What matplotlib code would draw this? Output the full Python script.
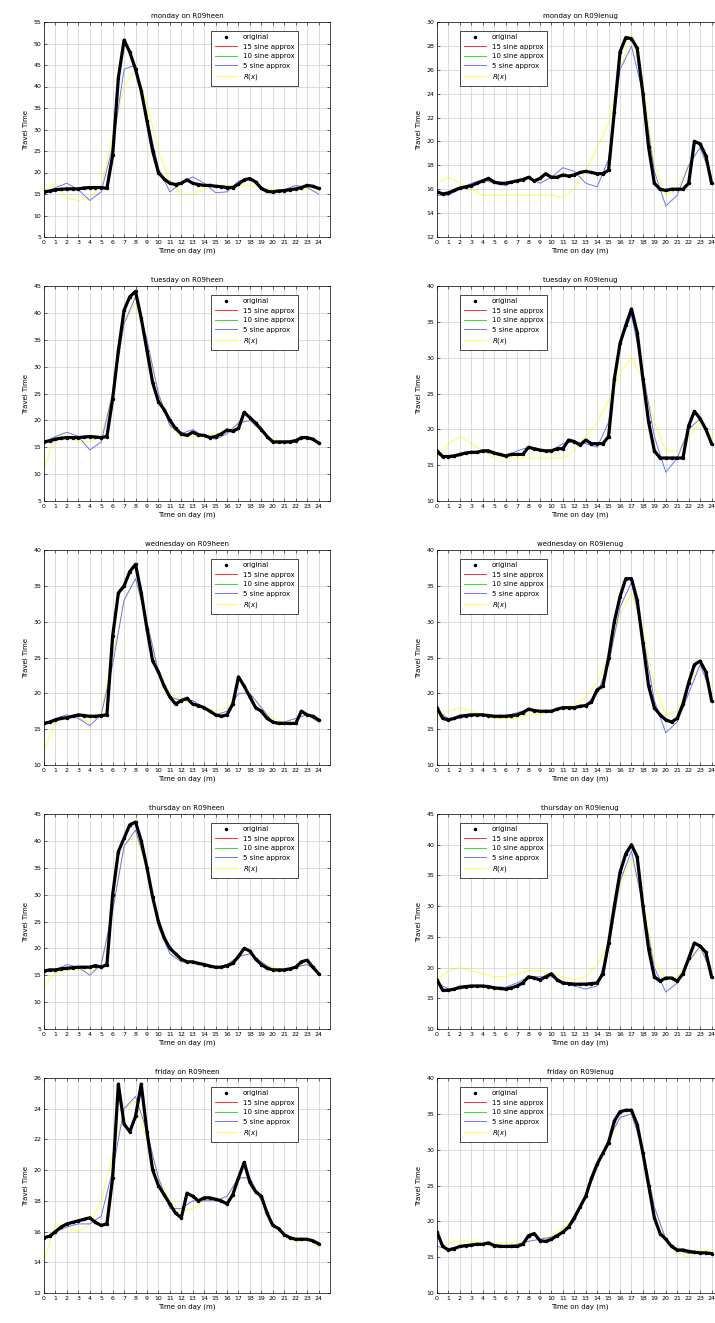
import numpy as np
import matplotlib
matplotlib.use("Agg")
import matplotlib.pyplot as plt

# time axes: original samples every half hour, approximations every hour
t_half = np.arange(0, 24.5, 0.5)
t_hour = np.arange(0, 25, 1)
hour_ticks = list(range(25))

# ---- monday ----
mon_heen_orig = [15.5, 15.7, 16.0, 16.1, 16.2, 16.2, 16.2, 16.4, 16.5, 16.5, 16.5, 16.3,
                 24.0, 42.0, 50.8, 48.0, 44.0, 39.0, 32.0, 25.0, 20.0, 18.5, 17.5, 17.2,
                 17.5, 18.3, 17.5, 17.2, 17.0, 17.0, 16.8, 16.7, 16.5, 16.5, 17.3, 18.3,
                 18.6, 17.8, 16.3, 15.6, 15.5, 15.7, 15.8, 16.0, 16.2, 16.5, 17.0, 16.8, 16.3]
mon_heen_sine5 = [15, 16.5, 17.5, 16, 13.5, 15.5, 26, 44, 45, 33, 21, 15.5, 17.5,
                  19, 17.5, 15.3, 15.5, 18, 18.5, 16.5, 15.5, 16, 17, 16.5, 15]
mon_heen_rx = [16, 17.5, 14, 13.5, 14, 17, 28, 40, 44, 36, 25, 18, 15,
               15, 16, 17, 17, 17, 17, 16.5, 16, 16, 16, 16, 15.5]

mon_lenug_orig = [15.8, 15.6, 15.7, 15.9, 16.1, 16.2, 16.3, 16.5, 16.7, 16.9, 16.6, 16.5,
                  16.5, 16.6, 16.7, 16.8, 17.0, 16.7, 16.9, 17.3, 17.0, 17.0, 17.2, 17.1,
                  17.2, 17.4, 17.5, 17.4, 17.3, 17.3, 17.6, 22.5, 27.5, 28.7, 28.6, 27.8,
                  24.0, 19.5, 16.5, 16.0, 15.9, 16.0, 16.0, 16.0, 16.5, 20.0, 19.8, 18.8, 16.5]
mon_lenug_sine5 = [15.5, 15.5, 16, 16.5, 16.8, 16.5, 16.3, 16.8, 17, 16.5, 17, 17.8, 17.5,
                   16.5, 16.2, 18.5, 26, 28, 24, 17.5, 14.6, 15.5, 18, 19.5, 17]
mon_lenug_rx = [16.5, 17, 16.5, 16, 15.5, 15.5, 15.5, 15.5, 15.5, 15.5, 15.5, 15.3, 16,
                17.5, 19.5, 21.5, 26, 29, 25, 18, 15.5, 16, 18, 19.5, 17]

# ---- tuesday ----
tue_heen_orig = [16.0, 16.2, 16.5, 16.7, 16.8, 16.8, 16.8, 16.9, 17.0, 16.9, 16.8, 17.0,
                 24.0, 33.0, 40.5, 43.0, 44.0, 39.0, 33.0, 27.0, 23.5, 22.0, 20.0, 18.5,
                 17.5, 17.2, 17.8, 17.3, 17.2, 16.8, 17.0, 17.5, 18.2, 18.0, 18.5, 21.5,
                 20.5, 19.5, 18.3, 17.0, 16.0, 16.0, 16.0, 16.0, 16.2, 16.8, 16.8, 16.5, 15.8]
tue_heen_sine5 = [16, 17, 17.8, 17, 14.5, 16, 25, 38, 43, 35, 25, 19, 17.5,
                  18.3, 17, 16.5, 17.5, 19.5, 20, 18, 16, 16, 16.5, 17, 16]
tue_heen_rx = [11, 17, 17.5, 16, 16, 17, 25, 38, 42, 34, 25, 19, 17,
               17, 17, 17.5, 18, 19.5, 20, 18, 16.5, 16, 16.5, 17, 16]

tue_lenug_orig = [17.0, 16.2, 16.2, 16.3, 16.5, 16.7, 16.8, 16.8, 17.0, 17.0, 16.7, 16.5,
                  16.3, 16.5, 16.5, 16.5, 17.5, 17.3, 17.1, 17.0, 17.0, 17.3, 17.3, 18.5,
                  18.3, 17.8, 18.5, 18.0, 18.0, 18.0, 19.0, 27.0, 32.0, 34.5, 36.8, 33.5,
                  27.0, 21.0, 17.0, 16.0, 16.0, 16.0, 16.0, 16.0, 20.5, 22.5, 21.5, 20.0, 18.0]
tue_lenug_sine5 = [16.5, 16, 16.3, 16.8, 17, 16.5, 16.2, 17, 17.5, 17, 17, 18, 18.3,
                   18, 17.5, 21, 32, 36, 28, 19, 14, 16, 20, 21.5, 18]
tue_lenug_rx = [16, 18, 19, 18, 17, 16, 16, 16, 16, 16, 16, 16, 17,
                19, 21, 24, 28, 30, 27, 21, 17, 17, 19, 21, 19]

# ---- wednesday ----
wed_heen_orig = [15.8, 16.0, 16.3, 16.5, 16.6, 16.8, 17.0, 16.9, 16.8, 16.8, 16.9, 17.0,
                 28.0, 34.0, 35.0, 37.0, 38.0, 34.0, 29.0, 24.5, 23.0, 21.0, 19.5, 18.5,
                 19.0, 19.3, 18.5, 18.3, 18.0, 17.5, 17.0, 16.8, 17.0, 18.5, 22.3, 21.0,
                 19.5, 18.0, 17.5, 16.5, 16.0, 15.8, 15.8, 15.8, 15.8, 17.5, 17.0, 16.8, 16.3]
wed_heen_sine5 = [15.5, 16.5, 17, 16.5, 15.5, 17, 24, 33, 36, 30, 23, 19.5, 19,
                  19, 18, 17, 17.5, 20, 20, 18, 16, 16, 16.5, 17, 16]
wed_heen_rx = [12, 16, 17, 16.5, 16, 17.5, 25, 33, 36, 30, 23, 20, 19,
               18.5, 18, 17.5, 18, 20, 20, 18, 16.5, 16, 16.5, 17, 16]

wed_lenug_orig = [18.0, 16.5, 16.3, 16.5, 16.8, 16.9, 17.0, 17.0, 17.0, 16.9, 16.8, 16.8,
                  16.8, 16.9, 17.0, 17.3, 17.8, 17.6, 17.5, 17.5, 17.5, 17.8, 18.0, 18.0,
                  18.0, 18.2, 18.3, 18.8, 20.5, 21.0, 25.0, 30.0, 33.5, 36.0, 36.0, 33.0,
                  27.0, 21.0, 18.0, 17.0, 16.3, 16.0, 16.5, 18.5, 21.5, 24.0, 24.5, 23.0, 19.0]
wed_lenug_sine5 = [17.5, 16.5, 16.5, 17, 17, 16.8, 16.8, 17.3, 17.8, 17.5, 17.5, 18, 18,
                   18.3, 20, 24, 32, 35.5, 28, 19, 14.5, 16, 20, 24, 20]
wed_lenug_rx = [16.5, 17.5, 18, 17.5, 17, 16.5, 16.5, 16.5, 17, 17, 17.5, 18, 18.5,
                19.5, 21.5, 25, 31, 34, 29, 21, 17, 17.5, 21, 24, 21]

# ---- thursday ----
thu_heen_orig = [15.8, 16.0, 16.0, 16.2, 16.3, 16.4, 16.5, 16.5, 16.5, 16.8, 16.5, 17.0,
                 30.0, 38.0, 40.5, 43.0, 43.5, 40.0, 35.0, 29.5, 25.0, 22.0, 20.0, 19.0,
                 18.0, 17.5, 17.5, 17.2, 17.0, 16.7, 16.5, 16.5, 16.8, 17.2, 18.5, 20.0,
                 19.5, 18.0, 17.0, 16.3, 16.0, 16.0, 16.0, 16.2, 16.5, 17.5, 17.8, 16.5, 15.3]
thu_heen_sine5 = [15.5, 16, 17, 16.5, 15, 17, 27, 39, 42, 35, 24, 19, 17.5,
                  17.5, 16.8, 16.3, 17, 18.5, 19, 17.5, 16, 16, 16.5, 17, 15.5]
thu_heen_rx = [13, 15.5, 16, 16, 15.5, 17, 27, 39, 41, 35, 25, 20, 17.5,
               17.3, 17, 16.5, 17, 18.5, 19, 17.5, 16.5, 16, 16.5, 17, 15.5]

thu_lenug_orig = [18.0, 16.3, 16.3, 16.5, 16.8, 16.9, 17.0, 17.0, 17.0, 16.9, 16.7, 16.6,
                  16.5, 16.7, 17.0, 17.5, 18.5, 18.3, 18.0, 18.5, 19.0, 18.0, 17.5, 17.4,
                  17.3, 17.3, 17.3, 17.4, 17.5, 19.0, 24.0, 30.0, 35.5, 38.5, 40.0, 38.0,
                  30.0, 23.0, 18.5, 17.8, 18.3, 18.3, 17.8, 19.0, 21.5, 24.0, 23.5, 22.5, 18.5]
thu_lenug_sine5 = [17.5, 16.5, 16.5, 17, 17, 16.8, 16.8, 17.5, 18.5, 18.5, 18.5, 17.5, 17,
                   16.5, 17, 23, 34, 39, 30, 20, 16, 17.5, 21, 23.5, 19]
thu_lenug_rx = [18, 19.5, 20, 19.5, 19, 18.5, 18.5, 19, 19.5, 19.5, 19, 18.5, 18,
                18.5, 20.5, 24, 33, 38, 31, 21, 18, 18.5, 21, 23, 20]

# ---- friday ----
fri_heen_orig = [15.6, 15.7, 16.0, 16.3, 16.5, 16.6, 16.7, 16.8, 16.9, 16.6, 16.4, 16.5,
                 19.5, 25.6, 23.0, 22.5, 23.5, 25.6, 22.5, 20.0, 19.0, 18.4, 17.8, 17.2,
                 16.9, 18.5, 18.3, 18.0, 18.2, 18.2, 18.1, 18.0, 17.8, 18.4, 19.5, 20.5,
                 19.2, 18.6, 18.3, 17.2, 16.4, 16.2, 15.8, 15.6, 15.5, 15.5, 15.5, 15.4, 15.2]
fri_heen_sine5 = [15.5, 16, 16.3, 16.5, 16.5, 17, 20, 24, 24.8, 22.5, 19.5, 17.5, 17.5,
                  18, 18, 18, 18.3, 19.5, 19.5, 18, 16.5, 15.8, 15.5, 15.5, 15.3]
fri_heen_rx = [14, 16.5, 16.3, 16, 16.5, 18, 21, 24, 24.5, 22, 19.5, 18, 17.3,
               17.5, 18, 18, 18.3, 19.5, 19.5, 18, 16.5, 15.8, 15.3, 15.5, 15]

fri_lenug_orig = [18.5, 16.5, 16.0, 16.2, 16.5, 16.6, 16.7, 16.8, 16.8, 17.0, 16.6, 16.5,
                  16.5, 16.5, 16.5, 16.8, 18.0, 18.3, 17.3, 17.2, 17.5, 18.0, 18.5, 19.2,
                  20.5, 22.0, 23.5, 26.0, 28.0, 29.5, 31.0, 34.0, 35.3, 35.5, 35.5, 33.5,
                  29.5, 25.0, 20.5, 18.3, 17.5, 16.5, 16.0, 16.0, 15.8, 15.7, 15.6, 15.6, 15.5]
fri_lenug_sine5 = [16.5, 16.2, 16.5, 16.7, 16.8, 16.8, 16.6, 16.8, 17.2, 17.5, 17.8, 18.5, 20,
                   23.5, 27.5, 31.5, 34.5, 35, 30, 22, 17.5, 16, 15.5, 15.7, 15.5]
fri_lenug_rx = [16, 17, 17.3, 17.2, 17, 17, 17, 17, 17.3, 17.5, 18, 19, 20.5,
                23.5, 27.5, 31, 34.5, 35, 30, 22, 17.5, 15.5, 15, 16, 16]

days = ["monday", "tuesday", "wednesday", "thursday", "friday"]
roads = ["R09heen", "R09lenug"]
ylims = [[(5, 55, 5), (12, 30, 2)],
         [(5, 45, 5), (10, 40, 5)],
         [(10, 40, 5), (10, 40, 5)],
         [(5, 45, 5), (10, 45, 5)],
         [(12, 26, 2), (10, 40, 5)]]
series = [[(mon_heen_orig, mon_heen_sine5, mon_heen_rx), (mon_lenug_orig, mon_lenug_sine5, mon_lenug_rx)],
          [(tue_heen_orig, tue_heen_sine5, tue_heen_rx), (tue_lenug_orig, tue_lenug_sine5, tue_lenug_rx)],
          [(wed_heen_orig, wed_heen_sine5, wed_heen_rx), (wed_lenug_orig, wed_lenug_sine5, wed_lenug_rx)],
          [(thu_heen_orig, thu_heen_sine5, thu_heen_rx), (thu_lenug_orig, thu_lenug_sine5, thu_lenug_rx)],
          [(fri_heen_orig, fri_heen_sine5, fri_heen_rx), (fri_lenug_orig, fri_lenug_sine5, fri_lenug_rx)]]

W, H = 715, 1323
fig = plt.figure(figsize=(W / 100, H / 100), dpi=100)
plt.rcParams['font.family'] = ['DejaVu Sans']

col_left = [44, 437]
row_top = [22, 286, 550, 814, 1078]
ax_w, ax_h = 286, 215

for r in range(5):
    for c in range(2):
        x0 = col_left[c] / W
        y0 = (H - row_top[r] - ax_h) / H
        ax = fig.add_axes([x0, y0, ax_w / W, ax_h / H])
        orig, s5, rx = series[r][c]
        lo, hi, step = ylims[r][c]

        # approximations, mostly hidden under the measured data
        ax.plot(t_half, orig, color="#ff3333", lw=0.7, label="15 sine approx", zorder=2)
        ax.plot(t_half, orig, color="#33dd33", lw=0.7, label="10 sine approx", zorder=2)
        ax.plot(t_hour, s5, color="#6677ff", lw=0.7, label="5 sine approx", zorder=2)
        ax.plot(t_hour, rx, color="#ffff44", lw=0.7, label=r"$R(x)$", zorder=1)
        ax.plot(t_half, orig, color="black", lw=2.3, zorder=3)
        ax.plot(t_half, orig, ".", color="black", ms=3, label="original", zorder=4)

        ax.set_xlim(0, 25)
        ax.set_ylim(lo, hi)
        ax.set_xticks(hour_ticks)
        ax.set_yticks(np.arange(lo, hi + 0.01, step))
        ax.grid(True, color="#cfcfcf", lw=0.5)
        ax.tick_params(direction="in", top=True, right=True, labelsize=4.5,
                       length=2, width=0.4, pad=2)
        for sp in ax.spines.values():
            sp.set_linewidth(0.5)
        ax.set_title(f"{days[r]} on {roads[c]}", fontsize=5, pad=3)
        ax.set_xlabel("Time on day (m)", fontsize=5, labelpad=2)
        ax.set_ylabel("Travel Time", fontsize=5, labelpad=3)

        h, l = ax.get_legend_handles_labels()
        order = [4, 0, 1, 2, 3]
        if c == 0:
            loc, anchor = "upper right", (0.9, 0.975)
        else:
            loc, anchor = "upper left", (0.07, 0.975)
        leg = ax.legend([h[i] for i in order], [l[i] for i in order], loc=loc,
                        bbox_to_anchor=anchor, fontsize=5, fancybox=False,
                        framealpha=1, edgecolor="black", handlelength=3.2,
                        borderpad=0.5, labelspacing=0.5)
        leg.get_frame().set_linewidth(0.5)

fig.savefig("out.png", dpi=100)
